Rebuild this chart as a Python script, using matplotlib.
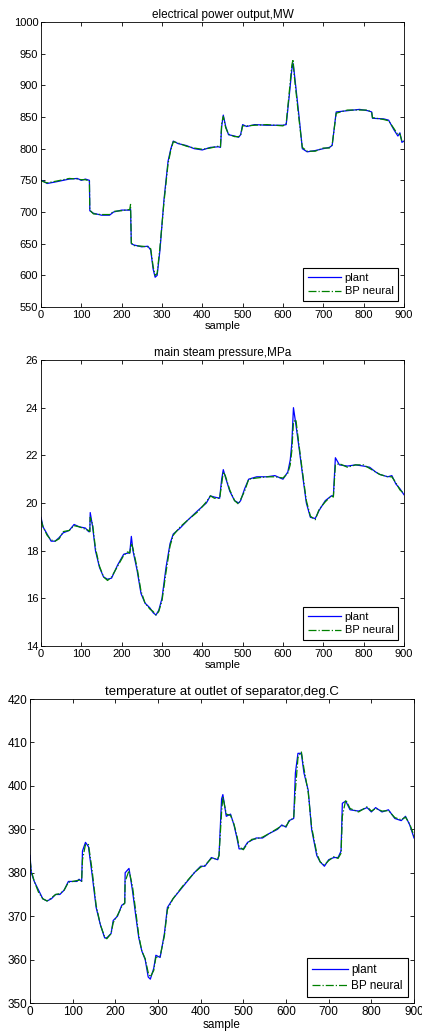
import matplotlib
matplotlib.use('Agg')
import matplotlib.pyplot as plt

plt.rcParams['font.family'] = ['Liberation Sans', 'DejaVu Sans']

# -----------------------------------------------------------------------------
# data

# electrical power output, MW
power_x = [0, 5, 15, 40, 70, 90, 100, 110, 120, 121, 130, 150, 170, 180, 200, 220, 222,
           224, 230, 250, 265, 272, 278, 283, 288, 295, 305, 315, 322, 328, 340, 360,
           380, 400, 420, 440, 445, 448, 452, 458, 465, 480, 490, 495, 500, 510, 530,
           560, 600, 608, 615, 622, 625, 628, 640, 648, 660, 680, 700, 715, 722, 732,
           760, 790, 810, 820, 822, 850, 862, 875, 885, 890, 895, 900]
power_plant = [750, 749, 745, 748, 752, 753, 750, 752, 750, 702, 698, 695, 695, 700, 703, 703, 705,
               650, 648, 645, 646, 640, 610, 597, 600, 640, 720, 780, 800, 812, 808, 805,
               800, 798, 802, 803, 802, 835, 853, 835, 822, 820, 818, 822, 838, 835, 838,
               837, 837, 838, 880, 925, 935, 920, 850, 800, 795, 797, 800, 802, 805, 858,
               860, 862, 860, 858, 848, 847, 845, 830, 820, 825, 810, 812]
power_bp = [750, 748, 746, 749, 753, 752, 751, 751, 749, 703, 697, 696, 696, 701, 702, 704, 712,
            651, 647, 646, 645, 642, 614, 600, 603, 645, 716, 776, 798, 811, 809, 804,
            801, 799, 801, 804, 803, 840, 851, 833, 823, 819, 819, 821, 836, 836, 837,
            838, 836, 840, 885, 932, 941, 915, 845, 802, 796, 796, 801, 801, 806, 856,
            861, 861, 861, 857, 849, 846, 844, 832, 822, 823, 812, 811]

# main steam pressure, MPa
press_x = [0, 5, 15, 25, 35, 45, 55, 70, 82, 95, 110, 118, 121, 122, 128, 135, 145, 155,
           165, 175, 190, 205, 215, 220, 224, 228, 238, 248, 258, 270, 278, 285, 292,
           300, 310, 320, 328, 345, 365, 390, 410, 420, 430, 443, 448, 452, 457, 468,
           480, 490, 495, 505, 515, 535, 560, 580, 600, 612, 618, 622, 626, 632, 640,
           650, 658, 668, 680, 690, 705, 720, 725, 730, 740, 760, 780, 800, 815, 830,
           840, 860, 870, 880, 890, 900]
press_plant = [19.4, 19.0, 18.7, 18.4, 18.4, 18.55, 18.75, 18.85, 19.1, 19.0, 18.95, 18.8, 18.8,
               19.6, 19.0, 18.0, 17.3, 16.9, 16.8, 16.85, 17.4, 17.85, 17.9, 17.9, 18.6, 18.0,
               17.2, 16.2, 15.8, 15.6, 15.4, 15.3, 15.5, 16.0, 17.3, 18.3, 18.7, 18.95, 19.3,
               19.7, 20.0, 20.3, 20.25, 20.2, 21.0, 21.4, 21.1, 20.5, 20.1, 20.0, 20.1, 20.6,
               21.0, 21.1, 21.1, 21.15, 21.0, 21.3, 21.8, 22.5, 24.0, 23.3, 22.3, 21.0, 20.0,
               19.4, 19.35, 19.7, 20.1, 20.3, 20.3, 21.9, 21.6, 21.55, 21.6, 21.55, 21.5, 21.3,
               21.2, 21.1, 21.15, 20.8, 20.6, 20.35]
press_bp = [19.3, 19.0, 18.65, 18.45, 18.4, 18.5, 18.8, 18.85, 19.05, 19.0, 18.9, 18.85, 18.8,
            19.4, 19.1, 18.1, 17.35, 16.9, 16.75, 16.9, 17.35, 17.8, 17.95, 17.9, 18.3, 18.1,
            17.3, 16.3, 15.8, 15.55, 15.45, 15.3, 15.45, 15.9, 17.1, 18.2, 18.65, 19.0, 19.3,
            19.65, 20.05, 20.3, 20.2, 20.2, 20.8, 21.3, 21.15, 20.55, 20.1, 19.95, 20.15, 20.5,
            21.0, 21.05, 21.1, 21.1, 21.05, 21.25, 21.6, 22.2, 23.4, 23.5, 22.4, 21.1, 20.1,
            19.45, 19.3, 19.75, 20.05, 20.3, 20.25, 21.6, 21.65, 21.5, 21.6, 21.6, 21.45, 21.3,
            21.2, 21.1, 21.1, 20.85, 20.55, 20.4]

# temperature at outlet of separator, deg.C
temp_x = [0, 3, 10, 20, 30, 40, 50, 60, 70, 80, 90, 100, 110, 115, 121, 123, 130, 137,
          145, 155, 165, 175, 180, 190, 195, 205, 215, 222, 223, 232, 240, 248, 255,
          262, 270, 277, 282, 290, 295, 305, 315, 322, 335, 360, 385, 400, 410, 425,
          440, 443, 449, 452, 460, 470, 478, 485, 490, 500, 510, 520, 530, 545, 560,
          580, 590, 600, 607, 618, 622, 628, 636, 642, 652, 660, 672, 680, 690, 700,
          712, 722, 729, 732, 740, 750, 770, 790, 800, 810, 825, 840, 855, 870, 880,
          890, 900]
temp_plant = [384, 380, 378, 376, 374, 373.5, 374, 375, 375, 376, 378, 378, 378, 378.5, 378,
              385, 387, 386, 380, 372, 368, 365, 365, 366, 369, 370, 372.5, 373, 380, 381,
              376, 370, 365, 362, 360, 356, 355.5, 358, 361, 360.5, 366, 372, 374, 377,
              380, 381.5, 381.5, 383.5, 383, 384, 397, 398, 393, 393.5, 391, 388, 385.5,
              385.5, 387, 387.5, 388, 388, 389, 390, 391, 390.5, 392, 392.5, 403, 407.5,
              407.5, 403, 399, 390, 384, 382.5, 381.5, 383, 383.5, 383.5, 385, 396, 396.5,
              394.5, 394.2, 395, 394, 395, 394, 394.5, 392.5, 392, 393, 391, 388]
temp_bp = [383, 380.5, 378, 375.5, 374, 373.5, 374.2, 375, 375.2, 376, 377.8, 378, 378.2, 378.3, 378,
           383, 386.5, 386.5, 381, 372.5, 368, 365.2, 364.8, 366, 368.5, 370.2, 372.2, 373, 378, 380.5,
           377, 371, 365.5, 362, 360.2, 357, 356, 357.5, 360.5, 360.8, 365.5, 371.5, 374, 377.2,
           380, 381.3, 381.7, 383.3, 383.2, 384, 394, 397.5, 393.5, 393.2, 391.2, 388.5, 386,
           385.3, 386.8, 387.7, 387.8, 388.2, 389, 390.2, 390.8, 390.7, 391.8, 392.7, 399, 406.5,
           407.8, 404, 398.5, 390.5, 384.5, 382.5, 381.8, 382.8, 383.7, 383.3, 384.5, 393, 396.8,
           394.8, 394, 395.2, 394.2, 394.8, 394.2, 394.3, 392.7, 392.2, 392.8, 391.2, 388.5]

titles = ['electrical power output,MW', 'main steam pressure,MPa',
          'temperature at outlet of separator,deg.C']
ylims = [(550, 1000), (14, 26), (350, 420)]
yticks = [list(range(550, 1001, 50)), list(range(14, 27, 2)), list(range(350, 421, 10))]
xticks = list(range(0, 901, 100))

# -----------------------------------------------------------------------------
# plot

fig = plt.figure(figsize=(4.22, 10.33), dpi=100)

positions = [
    [0.0972, 0.7028, 0.860, 0.2759],
    [0.0972, 0.3746, 0.860, 0.2769],
    [0.0711, 0.0290, 0.910, 0.2943],
]
series = [
    (power_x, power_plant, power_bp),
    (press_x, press_plant, press_bp),
    (temp_x, temp_plant, temp_bp),
]
fsizes = [8, 8, 8.5]
tsizes = [8.5, 8.5, 9.5]

for i in range(3):
    ax = fig.add_axes(positions[i])
    x, yp, yb = series[i]
    fs = fsizes[i]
    ax.plot(x, yp, color=(0, 0, 1), lw=0.9, label='plant')
    ax.plot(x, yb, color=(0, 0.5, 0), lw=0.9, ls='-.', label='BP neural')
    ax.set_xlim(0, 900)
    ax.set_ylim(*ylims[i])
    ax.set_xticks(xticks)
    ax.set_yticks(yticks[i])
    ax.tick_params(direction='in', top=True, right=True, length=3, width=0.6,
                   labelsize=fs, pad=2)
    for s in ax.spines.values():
        s.set_linewidth(0.6)
    ax.set_title(titles[i], fontsize=tsizes[i], pad=3)
    ax.set_xlabel('sample', fontsize=fs, labelpad=1)
    leg = ax.legend(loc='lower right', fontsize=fs, fancybox=False, framealpha=1,
                    edgecolor='black', borderaxespad=0.5, handlelength=3.0,
                    borderpad=0.45, labelspacing=0.35, handletextpad=0.3)
    leg.get_frame().set_linewidth(0.8)

plt.savefig('out.png', dpi=100)
